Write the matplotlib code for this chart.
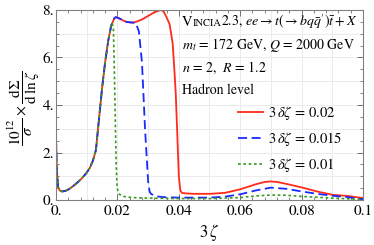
import numpy as np
import matplotlib
matplotlib.use("Agg")
import matplotlib.pyplot as plt
from matplotlib.ticker import MultipleLocator, FuncFormatter
from matplotlib.offsetbox import TextArea, HPacker, AnnotationBbox

plt.rcParams['mathtext.fontset'] = 'stix'
plt.rcParams['font.family'] = 'STIXGeneral'

# 3*delta zeta = 0.02 (red)
x_red = [0, 0.0003, 0.0007, 0.0012, 0.002, 0.003, 0.004, 0.005, 0.006, 0.007,
         0.008, 0.009, 0.010, 0.011, 0.012, 0.013, 0.014, 0.015, 0.016, 0.017,
         0.018, 0.019, 0.0195, 0.020, 0.021, 0.022, 0.023, 0.024, 0.025, 0.026,
         0.028, 0.030, 0.032, 0.034, 0.035, 0.036, 0.037, 0.038, 0.0385, 0.039,
         0.0395, 0.040, 0.0405, 0.041, 0.042, 0.045, 0.050, 0.055, 0.060, 0.065,
         0.068, 0.070, 0.072, 0.075, 0.080, 0.085, 0.090, 0.095, 0.100]
y_red = [2.6, 1.2, 0.55, 0.4, 0.36, 0.38, 0.44, 0.53, 0.63, 0.74,
         0.86, 1.0, 1.15, 1.35, 1.65, 2.1, 3.4, 4.7, 5.8, 6.7,
         7.35, 7.65, 7.7, 7.68, 7.62, 7.55, 7.5, 7.48, 7.47, 7.5,
         7.6, 7.75, 7.9, 8.0, 7.95, 7.7, 7.4, 6.6, 5.6, 4.5,
         2.8, 1.0, 0.4, 0.3, 0.28, 0.26, 0.26, 0.3, 0.45, 0.66,
         0.76, 0.78, 0.76, 0.68, 0.53, 0.36, 0.22, 0.17, 0.08]

# 3*delta zeta = 0.015 (blue)
x_blue = [0, 0.0003, 0.0007, 0.0012, 0.002, 0.003, 0.004, 0.005, 0.006, 0.007,
          0.008, 0.009, 0.010, 0.011, 0.012, 0.013, 0.014, 0.015, 0.016, 0.017,
          0.018, 0.019, 0.0195, 0.020, 0.021, 0.022, 0.023, 0.024, 0.025, 0.026,
          0.027, 0.028, 0.029, 0.030, 0.0305, 0.031, 0.033, 0.035, 0.040, 0.050,
          0.055, 0.060, 0.065, 0.070, 0.075, 0.080, 0.085, 0.090, 0.095, 0.100]
y_blue = [2.6, 1.2, 0.55, 0.4, 0.36, 0.38, 0.44, 0.53, 0.63, 0.74,
          0.86, 1.0, 1.15, 1.35, 1.65, 2.1, 3.4, 4.7, 5.8, 6.7,
          7.35, 7.65, 7.7, 7.68, 7.62, 7.55, 7.5, 7.48, 7.47, 7.45,
          7.1, 5.8, 3.0, 0.8, 0.35, 0.25, 0.15, 0.12, 0.1, 0.1,
          0.14, 0.24, 0.4, 0.52, 0.47, 0.36, 0.26, 0.18, 0.12, 0.03]

# 3*delta zeta = 0.01 (green)
x_green = [0, 0.0003, 0.0007, 0.0012, 0.002, 0.003, 0.004, 0.005, 0.006, 0.007,
           0.008, 0.009, 0.010, 0.011, 0.012, 0.013, 0.014, 0.015, 0.016, 0.017,
           0.0178, 0.0183, 0.0187, 0.019, 0.0193, 0.0196, 0.0199, 0.0205, 0.022, 0.025,
           0.030, 0.040, 0.050, 0.060, 0.065, 0.070, 0.075, 0.080, 0.090, 0.100]
y_green = [2.6, 1.2, 0.55, 0.4, 0.36, 0.38, 0.44, 0.53, 0.63, 0.74,
           0.86, 1.0, 1.15, 1.35, 1.65, 2.1, 3.4, 4.7, 5.8, 6.7,
           7.3, 7.45, 7.2, 5.5, 3.5, 1.5, 0.5, 0.25, 0.15, 0.1,
           0.08, 0.06, 0.06, 0.1, 0.17, 0.21, 0.2, 0.15, 0.08, 0.02]

labels = [r"$3\,\delta\zeta\,=\,0.02$", r"$3\,\delta\zeta\,=\,0.015$", r"$3\,\delta\zeta\,=\,0.01$"]

fig = plt.figure(figsize=(3.74, 2.45), dpi=100)
ax = fig.add_axes([56/374, 45/245, 307/374, 190/245])

ax.plot(x_red, y_red, color='#ff2a1a', lw=1.3, label=labels[0])
ax.plot(x_blue, y_blue, color='#1a2aff', lw=1.3, dashes=(5, 2.5), label=labels[1])
ax.plot(x_green, y_green, color='#3a9a1a', lw=1.2, dashes=(1.6, 1.6), label=labels[2])

ax.set_xlim(0, 0.1)
ax.set_ylim(0, 8)
ax.xaxis.set_major_locator(MultipleLocator(0.02))
ax.xaxis.set_minor_locator(MultipleLocator(0.004))
ax.yaxis.set_major_locator(MultipleLocator(2))
ax.yaxis.set_minor_locator(MultipleLocator(0.5))

def fmt(v, pos):
    if abs(v) < 1e-9:
        return "0."
    if abs(v - round(v)) < 1e-9:
        return "%d." % round(v)
    return ("%.2f" % v).rstrip('0')
ax.xaxis.set_major_formatter(FuncFormatter(fmt))
ax.yaxis.set_major_formatter(FuncFormatter(fmt))

# light grid
for gx in np.arange(0.01, 0.1, 0.01):
    ax.axvline(gx, color='#ebebeb', lw=0.7, zorder=0)
for gy in range(1, 8):
    ax.axhline(gy, color='#ebebeb', lw=0.7, zorder=0)

ax.tick_params(which='both', direction='in', top=True, right=True,
               color='#707070', labelsize=11)
ax.tick_params(axis='x', pad=3.5)
ax.tick_params(axis='y', pad=1.5)
ax.tick_params(which='major', length=4.5, width=0.7)
ax.tick_params(which='minor', length=2.5, width=0.6)
for s in ax.spines.values():
    s.set_color('#808080')
    s.set_linewidth(0.8)

ax.set_xlabel(r"$3\,\zeta$", fontsize=12)
ax.xaxis.set_label_coords(0.5, -0.115)
ax.set_ylabel(r"$\dfrac{10^{12}}{\sigma}\times\dfrac{\mathrm{d}\Sigma}{\mathrm{d}\,\ln\zeta}$",
              fontsize=11)
ax.yaxis.set_label_coords(-0.046, 0.48)

# title line with small caps
parts = [TextArea("V", textprops=dict(fontsize=10.5)),
         TextArea("INCIA", textprops=dict(fontsize=7.5)),
         TextArea(r"2.3, $ee\to t(\to bq\bar{q}')\bar{t}+X$", textprops=dict(fontsize=10))]
box = HPacker(children=parts, align="baseline", pad=0, sep=0)
ab = AnnotationBbox(box, (182/374, 1 - 22/245), xycoords='figure fraction',
                    box_alignment=(0, 0.5), frameon=False)
fig.add_artist(ab)

fig.text(182/374, 1 - 45/245, r"$m_t$ = 172 GeV, $Q$ = 2000 GeV", fontsize=10, va='center')
fig.text(182/374, 1 - 68/245, r"$n$ = 2,  $R$ = 1.2", fontsize=10, va='center')
fig.text(182/374, 1 - 90/245, "Hadron level", fontsize=10, va='center')

ax.legend(loc='upper left', bbox_to_anchor=((238 - 56)/307, (200 - 104)/190),
          frameon=False, fontsize=10.5, handlelength=1.7, handletextpad=0.35,
          labelspacing=0.55, borderpad=0, borderaxespad=0)

fig.savefig("out.png", dpi=100)
